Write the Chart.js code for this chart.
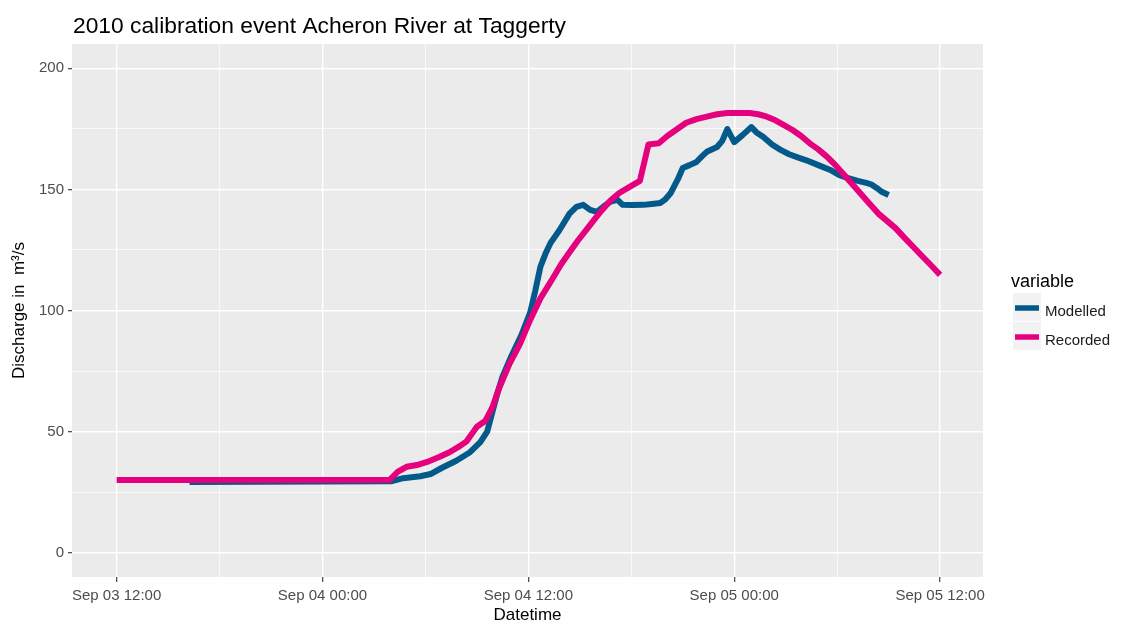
<!DOCTYPE html>
<html>
<head>
<meta charset="utf-8">
<script src="https://cdn.jsdelivr.net/npm/chart.js@4/dist/chart.umd.min.js"></script>
<style>
  html, body { margin: 0; padding: 0; background: #fff; }
  #wrap { width: 1121px; height: 626px; }
</style>
</head>
<body>
<div id="wrap"><canvas id="flow" width="1121" height="626"></canvas></div>
<script>
// Hours after Sep 03 12:00 and discharge (m3/s)
const modelledHours = [4.25, 16.0, 16.7, 17.7, 18.3, 19.0, 19.8, 20.6, 21.2, 21.6, 21.9, 22.2, 22.5, 23.0, 23.6,
  24.1, 24.4, 24.7, 25.0, 25.3, 25.8, 26.4, 26.8, 27.2, 27.6, 28.0, 28.4, 28.8, 29.2, 29.5, 30.1, 30.7, 31.2,
  31.7, 32.0, 32.3, 32.7, 33.0, 33.4, 33.8, 34.1, 34.4, 35.0, 35.3, 35.6, 36.0, 36.5, 37.0, 37.3, 37.7, 38.2,
  38.7, 39.2, 39.7, 40.2, 40.9, 41.6, 42.1, 42.6, 43.2, 43.7, 44.0, 44.3, 44.6, 45.0]
const modelled = [29.2, 29.5, 30.8, 31.6, 32.5, 35.2, 38.0, 41.5, 45.7, 50.0, 58.0, 66.0, 72.8, 81.0, 90.0,
  99.0, 108.0, 118.0, 123.5, 128.0, 133.0, 140.0, 142.8, 143.6, 141.5, 140.7, 143.0, 145.0, 145.7, 143.6, 143.5, 143.6, 144.0,
  144.4, 146.0, 148.5, 154.0, 158.8, 160.0, 161.3, 163.5, 165.5, 167.5, 170.0, 174.9, 169.5, 172.5, 175.7, 173.5, 171.6, 168.5,
  166.3, 164.5, 163.2, 162.0, 160.0, 158.0, 156.0, 154.7, 153.5, 152.7, 152.0, 150.6, 149.0, 147.7]

const recordedHours = [0, 15.9, 16.4, 16.9, 17.5, 18.1, 18.8, 19.4, 20.0, 20.4, 20.8, 21.0, 21.5, 21.9, 22.3,
  22.9, 23.5, 24.1, 24.7, 25.4, 25.9, 26.4, 26.9, 27.4, 27.9, 28.3, 28.8, 29.3, 29.9, 30.5, 31.0, 31.6, 32.1,
  32.7, 33.2, 33.8, 34.4, 35.0, 35.6, 36.3, 36.9, 37.4, 37.9, 38.4, 38.9, 39.4, 39.9, 40.4, 40.9, 41.4, 41.9,
  42.4, 42.9, 43.4, 43.9, 44.4, 44.9, 45.4, 45.9, 46.4, 46.9, 47.4, 48.0]
const recorded = [30.0, 30.0, 33.5, 35.5, 36.2, 37.5, 39.5, 41.5, 44.0, 46.0, 50.0, 52.0, 54.5, 60.0, 68.0,
  78.0, 86.0, 96.0, 105.0, 113.0, 119.0, 124.0, 129.0, 133.5, 138.0, 141.5, 145.5, 148.5, 151.0, 153.5, 168.5, 169.0, 172.0,
  175.0, 177.5, 179.0, 180.0, 181.0, 181.5, 181.5, 181.5, 181.0, 180.0, 178.5, 176.5, 174.5, 172.0, 169.0, 166.5, 163.5, 160.0,
  156.0, 152.0, 148.0, 144.0, 140.0, 137.0, 134.0, 130.2, 126.5, 122.8, 119.2, 114.7]

// Axis breaks
const xMajor = [0, 12, 24, 36, 48]
const xLabels = ['Sep 03 12:00', 'Sep 04 00:00', 'Sep 04 12:00', 'Sep 05 00:00', 'Sep 05 12:00']
const xBreaks = [0, 6, 12, 18, 24, 30, 36, 42, 48]
const yBreaks = [0, 25, 50, 75, 100, 125, 150, 175, 200]
const yMajor = [0, 50, 100, 150, 200]

const seriesNames = ['Modelled', 'Recorded']
const seriesColors = ['#03598a', '#e5007e']

const FONT = "'Liberation Sans', Arial, sans-serif"

const toPoints = (xs, ys) => xs.map((x, i) => ({ x: x, y: ys[i] }))

// grey panel behind the grid, ggplot style
const panelBg = {
  id: 'panelBg',
  beforeDraw(chart) {
    const { ctx, chartArea: a } = chart
    ctx.save()
    ctx.fillStyle = '#ebebeb'
    ctx.fillRect(a.left, a.top, a.right - a.left, a.bottom - a.top)
    ctx.restore()
  }
}

// plot title and the legend box on the right
const decorations = {
  id: 'decorations',
  afterDraw(chart) {
    const ctx = chart.ctx
    ctx.save()
    ctx.fillStyle = '#000'
    ctx.textBaseline = 'alphabetic'
    ctx.textAlign = 'left'
    ctx.font = '22.8px ' + FONT
    ctx.fillText('2010 calibration event Acheron River at Taggerty', 73, 33)

    ctx.font = '18px ' + FONT
    ctx.fillText('variable', 1011, 287)

    ctx.font = '15px ' + FONT
    seriesNames.forEach((name, i) => {
      const top = 293 + i * 29
      ctx.fillStyle = '#f2f2f2'
      ctx.fillRect(1013, top, 28, 28)
      ctx.strokeStyle = seriesColors[i]
      ctx.lineWidth = 5.5
      ctx.beginPath()
      ctx.moveTo(1015, top + 15)
      ctx.lineTo(1039, top + 15)
      ctx.stroke()
      ctx.fillStyle = '#1a1a1a'
      ctx.fillText(name, 1045, top + 23)
    })
    ctx.restore()
  }
}

const lineSet = (label, data, color) => ({
  label: label,
  data: data,
  borderColor: color,
  backgroundColor: color,
  borderWidth: 6,
  pointRadius: 0,
  tension: 0,
  borderJoinStyle: 'round',
  borderCapStyle: 'butt'
})

new Chart(document.getElementById('flow'), {
  type: 'line',
  data: {
    datasets: [
      lineSet(seriesNames[1], toPoints(recordedHours, recorded), seriesColors[1]),
      lineSet(seriesNames[0], toPoints(modelledHours, modelled), seriesColors[0])
    ]
  },
  options: {
    responsive: false,
    animation: false,
    layout: { padding: { left: 0, top: 44, right: 138, bottom: 0 } },
    plugins: {
      legend: { display: false },
      tooltip: { enabled: false },
      title: { display: false }
    },
    scales: {
      x: {
        type: 'linear',
        min: -2.6,
        max: 50.5,
        afterBuildTicks: (s) => { s.ticks = xBreaks.map(v => ({ value: v })) },
        afterFit: (s) => { s.height = 49 },
        border: { display: false },
        grid: {
          color: '#ffffff',
          lineWidth: (c) => xMajor.includes(c.tick.value) ? 1.4 : 0.7,
          drawTicks: true,
          tickLength: 5,
          tickWidth: 1.1,
          tickColor: (c) => xMajor.includes(c.tick.value) ? '#333333' : 'rgba(0,0,0,0)'
        },
        ticks: {
          autoSkip: false,
          maxRotation: 0,
          padding: 5,
          color: '#4d4d4d',
          font: { family: FONT, size: 15 },
          callback: (v) => {
            const i = xMajor.indexOf(v)
            return i >= 0 ? xLabels[i] : ''
          }
        },
        title: {
          display: true,
          text: 'Datetime',
          color: '#000',
          font: { family: FONT, size: 17, lineHeight: 1 },
          padding: { top: 0, bottom: 2 }
        }
      },
      y: {
        min: -10,
        max: 210,
        afterBuildTicks: (s) => { s.ticks = yBreaks.map(v => ({ value: v })) },
        afterFit: (s) => { s.width = 72 },
        border: { display: false },
        grid: {
          color: '#ffffff',
          lineWidth: (c) => yMajor.includes(c.tick.value) ? 1.4 : 0.7,
          drawTicks: true,
          tickLength: 4,
          tickWidth: 1.1,
          tickColor: (c) => yMajor.includes(c.tick.value) ? '#333333' : 'rgba(0,0,0,0)'
        },
        ticks: {
          autoSkip: false,
          padding: 4,
          color: '#4d4d4d',
          font: { family: FONT, size: 15 },
          callback: (v) => yMajor.includes(v) ? String(v) : ''
        },
        title: {
          display: true,
          text: 'Discharge in  m³/s',
          color: '#000',
          font: { family: FONT, size: 17, lineHeight: 1 },
          padding: { top: 11, bottom: 0 }
        }
      }
    }
  },
  plugins: [panelBg, decorations]
})
</script>
</body>
</html>
